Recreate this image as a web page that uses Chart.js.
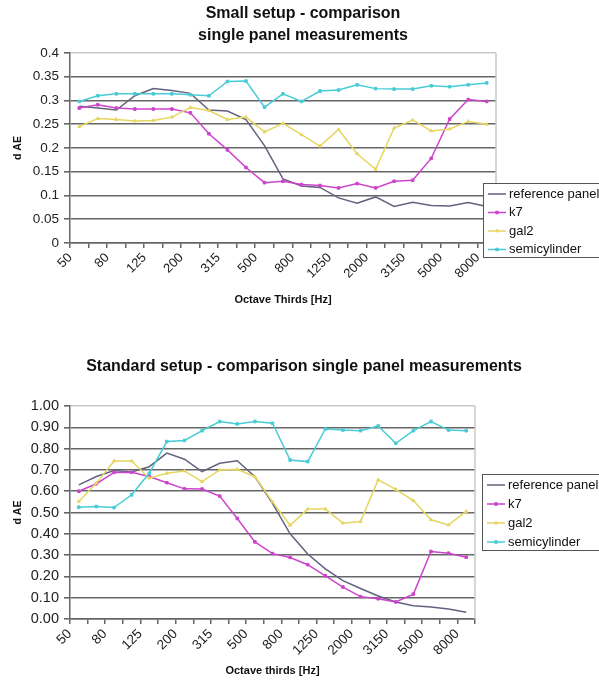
<!DOCTYPE html>
<html>
<head>
<meta charset="utf-8">
<script src="https://cdn.jsdelivr.net/npm/chart.js@4.4.1/dist/chart.umd.min.js"></script>
<style>
body { margin: 0; background: #fff; }
#wrap { position: relative; width: 599px; height: 681px; overflow: hidden; }
canvas { position: absolute; left: 0; }
#chartSmall { top: 0; }
#chartStandard { top: 330px; }
</style>
</head>
<body>
<div id="wrap">
<canvas id="chartSmall" width="599" height="330"></canvas>
<canvas id="chartStandard" width="599" height="351"></canvas>
</div>
<script>
// third-octave bands, labels shown on every other one
const freqs = ["50", "63", "80", "100", "125", "160", "200", "250", "315", "400", "500", "630",
    "800", "1000", "1250", "1600", "2000", "2500", "3150", "4000", "5000", "6300", "8000"];
const seriesNames = ["reference panel", "k7", "gal2", "semicylinder"];

// small setup
const smallRef = [0.288, 0.284, 0.280, 0.310, 0.325, 0.321, 0.315, 0.280, 0.278, 0.260, 0.205, 0.135,
    0.120, 0.117, 0.095, 0.084, 0.097, 0.077, 0.086, 0.079, 0.078, 0.085, 0.077];
const smallK7 = [0.284, 0.291, 0.284, 0.282, 0.282, 0.282, 0.274, 0.230, 0.196, 0.159, 0.127, 0.130,
    0.123, 0.121, 0.116, 0.125, 0.116, 0.130, 0.132, 0.178, 0.261, 0.302, 0.298];
const smallGal2 = [0.245, 0.262, 0.260, 0.257, 0.258, 0.265, 0.285, 0.279, 0.260, 0.265, 0.234, 0.252,
    0.228, 0.204, 0.239, 0.188, 0.155, 0.242, 0.259, 0.236, 0.240, 0.256, 0.250];
const smallSemi = [0.298, 0.310, 0.314, 0.314, 0.314, 0.314, 0.312, 0.310, 0.340, 0.341, 0.286, 0.314,
    0.298, 0.320, 0.322, 0.333, 0.325, 0.324, 0.324, 0.331, 0.329, 0.333, 0.337];

// standard setup
const stdRef = [0.630, 0.669, 0.697, 0.690, 0.715, 0.779, 0.750, 0.692, 0.731, 0.743, 0.668, 0.543,
    0.400, 0.305, 0.235, 0.180, 0.143, 0.108, 0.080, 0.062, 0.056, 0.047, 0.032];
const stdK7 = [0.600, 0.635, 0.688, 0.689, 0.669, 0.640, 0.611, 0.610, 0.577, 0.472, 0.362, 0.307,
    0.289, 0.255, 0.203, 0.150, 0.105, 0.095, 0.080, 0.117, 0.317, 0.309, 0.290];
const stdGal2 = [0.552, 0.638, 0.742, 0.742, 0.661, 0.684, 0.695, 0.645, 0.700, 0.703, 0.668, 0.550,
    0.440, 0.516, 0.517, 0.450, 0.458, 0.653, 0.609, 0.556, 0.466, 0.442, 0.505];
const stdSemi = [0.525, 0.528, 0.523, 0.583, 0.684, 0.833, 0.838, 0.884, 0.927, 0.916, 0.927, 0.919,
    0.746, 0.739, 0.892, 0.887, 0.884, 0.906, 0.825, 0.884, 0.927, 0.887, 0.884];

const seriesColors = ["#62627e", "#cc44cc", "#e6d660", "#48ccd6"];
const seriesMarkers = [false, "rect", "triangle", "rect"];
const fontFamily = '"Liberation Sans", Arial, sans-serif';

function buildDatasets(values) {
    return seriesNames.map((name, i) => ({
        label: name,
        data: values[i],
        borderColor: seriesColors[i],
        backgroundColor: seriesColors[i],
        borderWidth: 1.5,
        pointStyle: seriesMarkers[i],
        pointRadius: seriesMarkers[i] ? 1.8 : 0,
        pointBorderWidth: 1,
        tension: 0,
        order: 4 - i
    }));
}

// light frame on the right side of the plot, like the spreadsheet plot area
const plotFrame = {
    id: 'plotFrame',
    beforeDatasetsDraw(chart) {
        const { ctx, chartArea: { top, right, bottom } } = chart;
        ctx.save();
        ctx.strokeStyle = '#c8c8c8';
        ctx.lineWidth = 1.5;
        ctx.beginPath();
        ctx.moveTo(right, top);
        ctx.lineTo(right, bottom);
        ctx.stroke();
        ctx.restore();
    }
};

// title centred over the whole chart, not only the plot
const titleSpan = {
    id: 'titleSpan',
    afterLayout(chart, args, opts) {
        if (chart.titleBlock) {
            chart.titleBlock.left = 0;
            chart.titleBlock.right = opts.width;
        }
    }
};

// boxed legend that sits over the right edge of the plot
const boxLegend = {
    id: 'boxLegend',
    afterDraw(chart, args, opts) {
        const ctx = chart.ctx;
        ctx.save();
        ctx.fillStyle = '#fff';
        ctx.fillRect(opts.x, opts.y, opts.w, opts.h);
        ctx.strokeStyle = '#555';
        ctx.lineWidth = 1;
        ctx.strokeRect(opts.x + 0.5, opts.y + 0.5, opts.w, opts.h);
        ctx.font = '13px ' + fontFamily;
        ctx.textBaseline = 'middle';
        chart.data.datasets.forEach((ds, i) => {
            const y = opts.firstRow + i * opts.rowStep;
            const x0 = opts.x + 5;
            ctx.strokeStyle = ds.borderColor;
            ctx.fillStyle = ds.backgroundColor;
            ctx.lineWidth = 1.5;
            ctx.beginPath();
            ctx.moveTo(x0, y);
            ctx.lineTo(x0 + 18, y);
            ctx.stroke();
            if (ds.pointRadius > 0) {
                ctx.lineWidth = 1;
                Chart.helpers.drawPoint(ctx, { pointStyle: ds.pointStyle, radius: ds.pointRadius, borderWidth: 1, rotation: 0 }, x0 + 9, y);
            }
            ctx.fillStyle = '#111';
            ctx.fillText(ds.label, x0 + 21, y);
        });
        ctx.restore();
    }
};

function makeChart(canvasId, cfg) {
    const ctx = document.getElementById(canvasId).getContext('2d');
    return new Chart(ctx, {
        type: 'line',
        data: {
            labels: freqs,
            datasets: buildDatasets(cfg.values)
        },
        plugins: [plotFrame, titleSpan, boxLegend],
        options: {
            responsive: false,
            animation: false,
            layout: { padding: cfg.padding },
            plugins: {
                legend: { display: false },
                tooltip: { enabled: false },
                title: {
                    display: true,
                    text: cfg.title,
                    color: '#111',
                    font: { family: fontFamily, size: 16, weight: 'bold', lineHeight: 1.375 },
                    padding: cfg.titlePadding
                },
                titleSpan: { width: cfg.titleWidth },
                boxLegend: cfg.legend
            },
            scales: {
                x: {
                    offset: true,
                    ticks: {
                        autoSkip: false,
                        maxRotation: 45,
                        minRotation: 45,
                        labelOffset: -9,
                        padding: 2,
                        color: '#222',
                        font: { family: fontFamily, size: cfg.xTickSize },
                        callback: (v, i) => i % 2 === 0 ? freqs[i] : ''
                    },
                    grid: { offset: true, drawOnChartArea: false, tickLength: 5, color: '#666', lineWidth: 1.5 },
                    border: { color: '#666', width: 1.5 },
                    title: {
                        display: true,
                        text: cfg.xTitle,
                        color: '#111',
                        font: { family: fontFamily, size: 11, weight: 'bold' },
                        padding: 0
                    },
                    afterFit: (s) => { s.height = cfg.xHeight; }
                },
                y: {
                    min: 0,
                    max: cfg.yMax,
                    ticks: {
                        stepSize: cfg.yStep,
                        padding: 5,
                        color: '#222',
                        font: { family: fontFamily, size: cfg.yTickSize },
                        callback: cfg.yFormat
                    },
                    grid: {
                        color: (c) => Math.abs(c.tick.value - cfg.yMax) < 1e-6 ? '#c8c8c8' : '#666',
                        lineWidth: 1.6,
                        tickLength: 6,
                        tickColor: '#666'
                    },
                    border: { color: '#666', width: 1.5 },
                    title: {
                        display: true,
                        text: 'd AE',
                        color: '#111',
                        font: { family: fontFamily, size: 10.5, weight: 'bold' },
                        padding: { top: 12, bottom: 0 }
                    },
                    afterFit: (s) => { s.width = 70; }
                }
            }
        }
    });
}

let smallChart = makeChart('chartSmall', {
    values: [smallRef, smallK7, smallGal2, smallSemi],
    title: ['Small setup - comparison', 'single panel measurements'],
    titlePadding: { top: 3, bottom: 6 },
    titleWidth: 606,
    padding: { top: 0, left: 0, right: 103, bottom: 23 },
    xHeight: 64,
    xTitle: 'Octave Thirds [Hz]',
    xTickSize: 13,
    yTickSize: 13.5,
    yMax: 0.4,
    yStep: 0.05,
    yFormat: (v) => String(Number(v.toFixed(2))),
    legend: { x: 483, y: 183, w: 130, h: 74, firstRow: 194, rowStep: 18.5 }
});

let standardChart = makeChart('chartStandard', {
    values: [stdRef, stdK7, stdGal2, stdSemi],
    title: 'Standard setup - comparison single panel measurements',
    titlePadding: { top: 26, bottom: 28 },
    titleWidth: 608,
    padding: { top: 0, left: 0, right: 124, bottom: 3 },
    xHeight: 59,
    xTitle: 'Octave thirds [Hz]',
    xTickSize: 13.5,
    yTickSize: 14.5,
    yMax: 1,
    yStep: 0.1,
    yFormat: (v) => v.toFixed(2),
    legend: { x: 482, y: 144, w: 130, h: 76, firstRow: 155, rowStep: 19 }
});
</script>
</body>
</html>
